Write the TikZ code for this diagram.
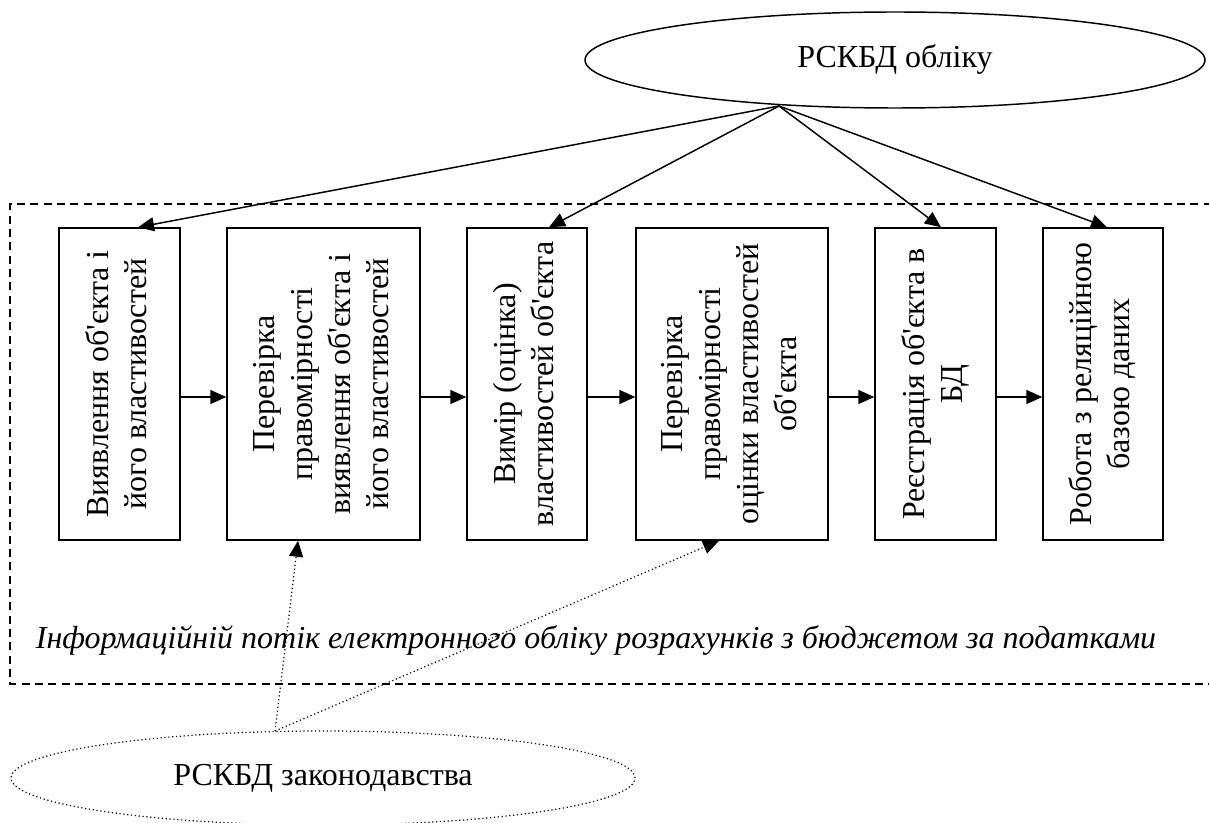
\documentclass[tikz,border=0pt]{standalone}
\usepackage{fontspec}
\setmainfont{Liberation Serif}[Ligatures=TeXOff]
\usetikzlibrary{shapes.geometric,arrows.meta}
\begin{document}
\begin{tikzpicture}[x=0.75pt,y=-0.75pt,
  txt/.style={font=\fontsize{24}{28.5}\selectfont},
  box/.style={draw, line width=1.1pt, minimum height=234pt, inner sep=0pt, align=center, txt},
  arr/.style={-{Triangle[length=12pt,width=10.5pt]}, line width=1.1pt},
  darr/.style={-{Triangle[length=12pt,width=10.5pt]}, line width=0.9pt, dotted},
  frame/.style={draw, line width=1.1pt, dash pattern=on 6pt off 4pt}]
\useasboundingbox (0,0) rectangle (1209,823);

% dashed frame
\draw[frame] (1225,204) -- (10,204) -- (10,684) -- (1225,684);

% top ellipse
\node[ellipse, draw, line width=1.1pt, minimum width=465pt, minimum height=72pt, inner sep=0pt, txt] (acc) at (895,60) {РСКБД обліку};

% boxes
\node[box, minimum width=90.75pt] (b1) at (119.5,384) {\rotatebox{90}{\begin{tabular}{@{}c@{}}Виявлення об'єкта і\\його властивостей\end{tabular}}};
\node[box, minimum width=144.75pt] (b2) at (323.5,384) {\rotatebox{90}{\begin{tabular}{@{}c@{}}Перевірка\\правомірності\\виявлення об'єкта і\\його властивостей\end{tabular}}};
\node[box, minimum width=90pt] (b3) at (527,384) {\rotatebox{90}{\begin{tabular}{@{}c@{}}Вимір (оцінка)\\властивостей об'єкта\end{tabular}}};
\node[box, minimum width=144pt] (b4) at (732,384) {\rotatebox{90}{\begin{tabular}{@{}c@{}}Перевірка\\правомірності\\оцінки властивостей\\об'єкта\end{tabular}}};
\node[box, minimum width=90.75pt] (b5) at (935.5,384) {\rotatebox{90}{\begin{tabular}{@{}c@{}}Реєстрація об'єкта в\\БД\end{tabular}}};
\node[box, minimum width=90pt] (b6) at (1103,384) {\rotatebox{90}{\begin{tabular}{@{}c@{}}Робота з реляційною\\базою даних\end{tabular}}};

% horizontal arrows
\draw[arr] ([yshift=-9.75pt]b1.east) -- ([yshift=-9.75pt]b2.west);
\draw[arr] ([yshift=-9.75pt]b2.east) -- ([yshift=-9.75pt]b3.west);
\draw[arr] ([yshift=-9.75pt]b3.east) -- ([yshift=-9.75pt]b4.west);
\draw[arr] ([yshift=-9.75pt]b4.east) -- ([yshift=-9.75pt]b5.west);
\draw[arr] ([yshift=-9.75pt]b5.east) -- ([yshift=-9.75pt]b6.west);

% arrows from top ellipse
\coordinate (src) at (779,106);
\draw[arr] (src) -- ([xshift=13.9pt]b1.north);
\draw[arr] (src) -- ([xshift=16.5pt]b3.north);
\draw[arr] (src) -- ([xshift=4.1pt]b5.north);
\draw[arr] (src) -- ([xshift=3pt]b6.north);

% flow caption
\node[font=\fontsize{24}{28.5}\selectfont\itshape, anchor=base, inner sep=0pt] (flow) at (596,648) {Інформаційній потік електронного обліку розрахунків з бюджетом за податками};

% bottom ellipse
\node[ellipse, draw, dotted, line width=0.9pt, minimum width=468pt, minimum height=70.5pt, inner sep=0pt, txt] (law) at (323,778) {РСКБД законодавства};
\coordinate (lsrc) at (275,731);
\draw[darr] (lsrc) -- ([xshift=-19.1pt]b2.south);
\draw[darr] (lsrc) -- ([xshift=-9.75pt]b4.south);
\end{tikzpicture}
\end{document}
